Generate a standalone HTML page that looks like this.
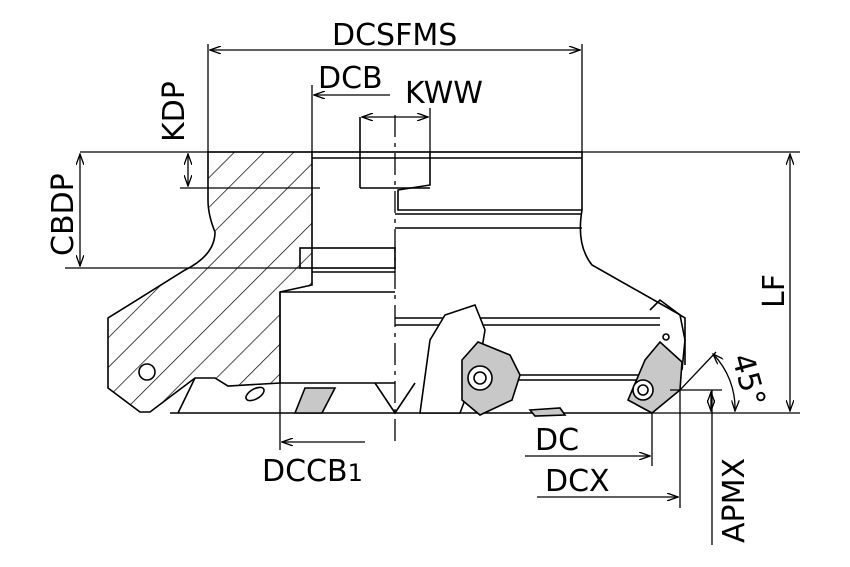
<!DOCTYPE html><html><head><style>body{margin:0;background:#fff}svg{display:block}text{font-family:"DejaVu Sans","Liberation Sans",sans-serif;font-size:30px;fill:#000}</style></head><body>
<svg width="850" height="567" viewBox="0 0 850 567" xmlns="http://www.w3.org/2000/svg">
<defs>
<pattern id="h" patternUnits="userSpaceOnUse" width="21" height="21" patternTransform="rotate(45)"><line x1="0" y1="0" x2="0" y2="21" stroke="#000" stroke-width="1.4"/></pattern>
<marker id="a" markerWidth="12" markerHeight="8" refX="11" refY="4" orient="auto-start-reverse" markerUnits="userSpaceOnUse"><path d="M0,0 L11,4 L0,8" fill="none" stroke="#000" stroke-width="1.3"/></marker>
</defs>
<g fill="none" stroke="#000" stroke-width="1.6">
<path d="M208,152 L312,152 L312,285 L280,292 L280,383 L228,386 L215,378 L195,378 L150,412 L140,412 L108,388 L108,318 L185,270 Q215,255 215,232 Q208,215 208,200 Z" fill="url(#h)"/>
<circle cx="147" cy="372" r="8" fill="#fff"/>
<path d="M312,152 L582,152 L582,210 Q576,245 592,265 L675,312 L685,318 L685,365"/>
<line x1="312" y1="158" x2="582" y2="158"/>
<path d="M430,152 L430,185 L398,190 L398,210 L582,210"/>
<line x1="360" y1="117" x2="360" y2="188"/><line x1="360" y1="188" x2="430" y2="188"/>
<line x1="395" y1="214" x2="582" y2="214"/>
<line x1="395" y1="228" x2="582" y2="228"/>
<rect x="300" y="248" width="95" height="20"/>
<line x1="312" y1="272" x2="395" y2="272"/>
<line x1="280" y1="292" x2="395" y2="292"/>
<line x1="280" y1="383" x2="395" y2="383"/>
<line x1="395" y1="318" x2="660" y2="318"/>
<line x1="395" y1="325" x2="660" y2="325"/>
<line x1="500" y1="375" x2="640" y2="375"/>
<line x1="500" y1="380" x2="640" y2="380"/>
<line x1="170" y1="413" x2="652" y2="413"/>
<path d="M375,383 L395,413 L415,383"/>
<ellipse cx="255" cy="394" rx="10" ry="5" transform="rotate(-30 255 394)"/>
<path d="M178,413 L195,378"/>
<path d="M295,413 L305,388 L320,388 L335,388 L322,413 Z" fill="#c8c8c8"/>
<path d="M420,413 L430,340 L445,315 L475,305 L485,330 L480,360 L460,413 Z" fill="#fff"/>
<path d="M462,360 L478,342 L510,355 L520,375 L512,400 L480,415 L462,400 Z" fill="#c8c8c8"/>
<circle cx="480" cy="378" r="12" fill="#fff"/><circle cx="480" cy="378" r="6"/>
<path d="M650,310 L660,300 L680,315 L685,340 L682,370"/>
<path d="M645,360 L660,342 L682,362 L680,390 L652,413 L628,400 Z" fill="#c8c8c8"/>
<circle cx="643" cy="390" r="10" fill="#fff"/><circle cx="643" cy="390" r="5"/>
<circle cx="666" cy="337" r="3"/>
<path d="M530,410 L560,408 L565,415 L535,416 Z" fill="#c8c8c8"/>
</g>
<g fill="none" stroke="#000" stroke-width="1.3">
<line x1="208" y1="44" x2="208" y2="152"/><line x1="582" y1="44" x2="582" y2="152"/>
<line x1="80" y1="152" x2="800" y2="152"/>
<line x1="65" y1="268" x2="300" y2="268"/>
<line x1="180" y1="188" x2="320" y2="188"/>
<line x1="312" y1="85" x2="312" y2="152"/>
<line x1="430" y1="108" x2="430" y2="152"/>
<line x1="395" y1="115" x2="395" y2="445" stroke-dasharray="22,6,4,6"/>
<line x1="280" y1="292" x2="280" y2="450"/>
<line x1="652" y1="413" x2="652" y2="466"/>
<line x1="652" y1="413" x2="800" y2="413"/>
<line x1="680" y1="390" x2="680" y2="508"/>
<line x1="670" y1="390" x2="722" y2="390"/>
<line x1="712" y1="390" x2="712" y2="545"/>
<line x1="680" y1="390" x2="716" y2="352"/>
<line x1="210" y1="50" x2="580" y2="50" marker-start="url(#a)" marker-end="url(#a)"/>
<line x1="314" y1="95" x2="390" y2="95" marker-start="url(#a)"/>
<line x1="362" y1="117" x2="428" y2="117" marker-start="url(#a)" marker-end="url(#a)"/>
<line x1="188" y1="154" x2="188" y2="186" marker-start="url(#a)" marker-end="url(#a)"/>
<line x1="80" y1="154" x2="80" y2="266" marker-start="url(#a)" marker-end="url(#a)"/>
<line x1="790" y1="154" x2="790" y2="411" marker-start="url(#a)" marker-end="url(#a)"/>
<line x1="282" y1="442" x2="365" y2="442" marker-start="url(#a)"/>
<line x1="525" y1="456" x2="650" y2="456" marker-end="url(#a)"/>
<line x1="537" y1="497" x2="678" y2="497" marker-end="url(#a)"/>
<line x1="711" y1="392" x2="711" y2="411" marker-start="url(#a)" marker-end="url(#a)"/>
<path d="M713,354 A78,78 0 0 1 735,411" marker-start="url(#a)" marker-end="url(#a)"/>
</g>
<text x="332" y="45">DCSFMS</text>
<text x="318" y="88">DCB</text>
<text x="405" y="103">KWW</text>
<text x="262" y="481">DCCB<tspan font-size="24">1</tspan></text>
<text x="535" y="450">DC</text>
<text x="545" y="491">DCX</text>
<text transform="translate(184,142) rotate(-90)">KDP</text>
<text transform="translate(73,256) rotate(-90)">CBDP</text>
<text transform="translate(784,308) rotate(-90)">LF</text>
<text transform="translate(744,543) rotate(-90)">APMX</text>
<text transform="translate(732,357) rotate(75)">45°</text>
</svg></body></html>
